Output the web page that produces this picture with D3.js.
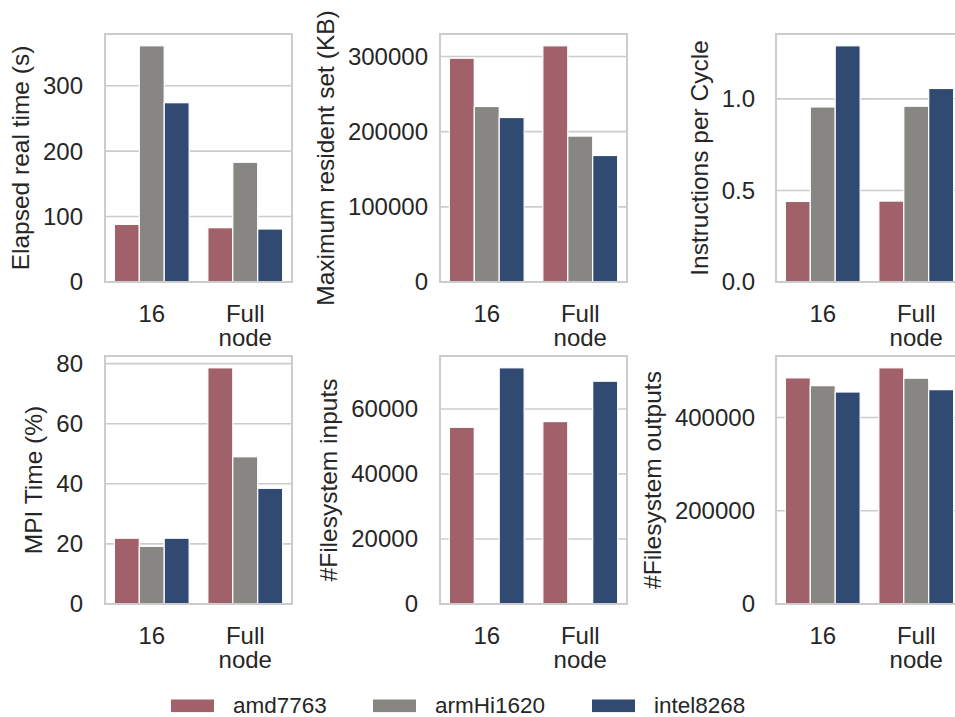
<!DOCTYPE html>
<html>
<head>
  <meta charset="UTF-8">
  <title>Benchmark metrics per machine</title>
  <script src="https://cdn.jsdelivr.net/npm/d3@7"></script>
  <style>
    body { margin: 0; background: #fff; }
    text { font-family: "Liberation Sans", Arial, sans-serif; fill: #262626; }
  </style>
</head>
<body>
  <svg id="chart" width="955" height="717"></svg>
  <script>
    // categories (x axis) and series (hue)
    const categories = ['16', 'Full node'];
    const machines = ['amd7763', 'armHi1620', 'intel8268'];
    const colors = ['#a0616a', '#878683', '#304a71'];

    // values: [category][machine]
    const elapsedTime = [[88, 361, 274], [83, 183, 81]];
    const maxResident = [[297700, 233500, 218800], [314200, 194100, 168300]];
    const ipc = [[0.44, 0.956, 1.29], [0.442, 0.96, 1.057]];
    const mpiTime = [[21.9, 19.2, 21.9], [78.6, 49.0, 38.5]];
    const fsInputs = [[54360, 0, 72650], [56120, 0, 68530]];
    const fsOutputs = [[485000, 468300, 454700], [506600, 484300, 459700]];

    // tick values per panel
    const elapsedTicks = [0, 100, 200, 300];
    const residentTicks = [0, 100000, 200000, 300000];
    const ipcTicks = [0, 0.5, 1.0];
    const mpiTicks = [0, 20, 40, 60, 80];
    const inputTicks = [0, 20000, 40000, 60000];
    const outputTicks = [0, 200000, 400000];

    const panels = [
      { label: 'Elapsed real time (s)', values: elapsedTime, ticks: elapsedTicks, fmt: d3.format('d'), col: 0, row: 0, pad: 22 },
      { label: 'Maximum resident set (KB)', values: maxResident, ticks: residentTicks, fmt: d3.format('d'), col: 1, row: 0, pad: 12 },
      { label: 'Instructions per Cycle', values: ipc, ticks: ipcTicks, fmt: d3.format('.1f'), col: 2, row: 0, pad: 21 },
      { label: 'MPI Time (%)', values: mpiTime, ticks: mpiTicks, fmt: d3.format('d'), col: 0, row: 1, pad: 22 },
      { label: '#Filesystem inputs', values: fsInputs, ticks: inputTicks, fmt: d3.format('d'), col: 1, row: 1, pad: 22 },
      { label: '#Filesystem outputs', values: fsOutputs, ticks: outputTicks, fmt: d3.format('d'), col: 2, row: 1, pad: 21 }
    ];

    const colLeft = [105, 440, 776];
    const rowTop = [34, 356];
    const plotW = 187, plotH = 248;
    const gridColor = '#cccccc';
    const tickSize = 24, labelSize = 24.5;

    const svg = d3.select('#chart');

    panels.forEach(function(p)
    {
      const left = colLeft[p.col], top = rowTop[p.row];
      const g = svg.append('g').attr('transform', `translate(${left},${top})`);

      const x = d3.scaleBand().domain(categories).range([0, plotW]).padding(0);
      const xm = d3.scaleBand().domain(machines).range([0, x.bandwidth() * 0.8]);
      const maxVal = d3.max(p.values.flat());
      const y = d3.scaleLinear().domain([0, maxVal * 1.05]).range([plotH, 0]);

      // horizontal grid
      g.append('g').selectAll('line').data(p.ticks).enter().append('line')
        .attr('x1', 0).attr('x2', plotW)
        .attr('y1', d => y(d)).attr('y2', d => y(d))
        .attr('stroke', gridColor).attr('stroke-width', 1.6);

      // bars
      const groups = g.append('g').selectAll('g').data(categories).enter().append('g')
        .attr('transform', c => `translate(${x(c) + x.bandwidth() * 0.1},0)`);
      groups.selectAll('rect').data((c, ci) => machines.map((m, mi) => ({ m: m, i: mi, v: p.values[ci][mi] })))
        .enter().append('rect')
          .filter(d => d.v > 0)
          .attr('x', d => xm(d.m))
          .attr('width', xm.bandwidth())
          .attr('y', d => y(d.v))
          .attr('height', d => plotH - y(d.v))
          .attr('fill', d => colors[d.i])
          .attr('stroke', '#fff').attr('stroke-width', 1.2);

      // frame
      g.append('rect').attr('x', 0).attr('y', 0).attr('width', plotW).attr('height', plotH)
        .attr('fill', 'none').attr('stroke', gridColor).attr('stroke-width', 2);

      // y tick labels
      const yt = g.append('g').selectAll('text').data(p.ticks).enter().append('text')
        .attr('x', -p.pad).attr('y', d => y(d)).attr('dy', '0.35em')
        .attr('text-anchor', 'end').attr('font-size', tickSize)
        .text(d => p.fmt(d));

      // x tick labels
      g.append('g').selectAll('text').data(categories).enter().append('text')
        .attr('transform', c => `translate(${x(c) + x.bandwidth() / 2},${plotH + 40})`)
        .attr('text-anchor', 'middle').attr('font-size', tickSize)
        .each(function(c)
        {
          const t = d3.select(this);
          c.split(' ').forEach((w, i) => t.append('tspan').attr('x', 0).attr('dy', i ? 23.5 : 0).text(w));
        });

      // y axis label, placed left of the widest tick label
      let minX = 0;
      yt.each(function() { minX = Math.min(minX, this.getBBox().x); });
      g.append('text')
        .attr('transform', `translate(${minX - 14},${plotH / 2}) rotate(-90)`)
        .attr('text-anchor', 'middle').attr('font-size', labelSize)
        .text(p.label);
    });

    // legend
    const legendX = [171, 373, 592];
    const legend = svg.append('g').selectAll('g').data(machines).enter().append('g')
      .attr('transform', (d, i) => `translate(${legendX[i]},699.5)`);
    legend.append('rect').attr('width', 43).attr('height', 12.6).attr('fill', (d, i) => colors[i]);
    legend.append('text').attr('x', 62).attr('y', 13.5)
      .attr('font-size', 22.5).text(d => d);
  </script>
</body>
</html>
